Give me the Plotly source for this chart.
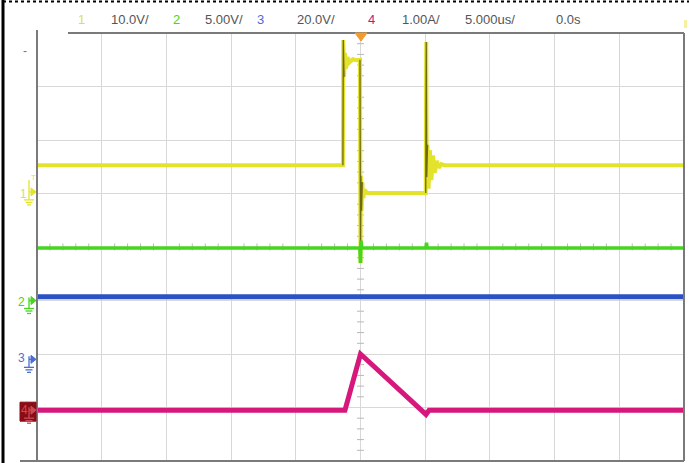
import numpy as np
import plotly.graph_objects as go

W, H = 689, 463

# ---------------- data (time in us, channel values in V / A) ----------------
ch1_t = [-25.0, -1.36, -1.33, -1.27, -1.2, -1.12, -1.0, -0.85, -0.6, -0.3, -0.04,
         0.0, 0.03, 0.08, 0.14, 0.22, 0.32, 0.5, 5.04, 5.08, 5.12, 5.18, 5.26,
         5.36, 5.48, 5.6, 5.74, 5.9, 6.05, 6.25, 6.5, 25.0]
ch1_v = [5.0, 5.0, 28.4, 21.5, 26.0, 23.0, 25.2, 24.2, 24.8, 24.6, 24.7,
         -13.3, 3.0, -3.5, 1.8, -1.2, 0.4, -0.2, -0.2, 28.0, 2.8, 8.8, 0.6,
         7.8, 2.2, 6.8, 3.6, 5.8, 4.5, 5.2, 5.0, 5.0]

ch2_t = [-25.0, -0.05, 0.0, 0.04, 0.1, 5.05, 5.1, 5.15, 25.0]
ch2_v = [4.9, 4.9, 3.5, 5.6, 4.9, 4.9, 5.4, 4.9, 4.9]

ch3_t = [-25.0, -0.02, 0.0, 0.03, 25.0]
ch3_v = [23.4, 23.4, 22.6, 23.4, 23.4]

ch4_t = [-25.0, -1.2, 0.0, 5.06, 5.3, 25.0]
ch4_i = [0.0, 0.0, 1.05, -0.08, 0.0, 0.0]

header_labels = ["1", "10.0V/", "2", "5.00V/", "3", "20.0V/", "4", "1.00A/", "5.000us/", "0.0s"]

# ---------------- styling / layout helpers ----------------
X0, X1 = 37, 684          # graticule px (left/right)
Y0, Y1 = 33, 461          # graticule px (top/bottom)
DIV_PX = (Y1 - Y0) / 8.0


def px(x):
    return x / W


def py(y):
    return 1 - y / H


YELLOW = "#e3e32c"
GREEN = "#45d61e"
BLUE = "#2a52c4"
PINK = "#d6187c"
GRID = "#d8d8d8"
BORDER = "#7a7a7a"

# channel settings: (scale per div, ground offset in divisions)
ch_scale = [10.0, 5.0, 20.0, 1.0]
ch_offset = [1.03, -1.0, -2.1, -3.05]


def ch_range(i):
    s, o = ch_scale[i], ch_offset[i]
    return [(-4 - o) * s, (4 - o) * s]


fig = go.Figure()

# graticule minor ticks on centre lines (base axes in time / divisions)
tx = [t for t in np.arange(-25, 25.01, 1.0) if abs(t % 5) > 1e-6]
fig.add_trace(go.Scatter(x=tx, y=[0] * len(tx), mode="markers", xaxis="x", yaxis="y",
                         marker=dict(symbol="line-ns", size=5, line=dict(width=1, color="#b8b8b8")),
                         hoverinfo="skip", showlegend=False))
ty = [d for d in np.arange(-4, 4.01, 0.2) if abs(d - round(d)) > 1e-6]
fig.add_trace(go.Scatter(x=[0] * len(ty), y=ty, mode="markers", xaxis="x", yaxis="y",
                         marker=dict(symbol="line-ew", size=5, line=dict(width=1, color="#b8b8b8")),
                         hoverinfo="skip", showlegend=False))

# channel traces (ch4 first so ch1 is on top)
fig.add_trace(go.Scatter(x=ch4_t, y=ch4_i, mode="lines", yaxis="y5",
                         line=dict(color=PINK, width=5), showlegend=False))
fig.add_trace(go.Scatter(x=ch3_t, y=ch3_v, mode="lines", yaxis="y4",
                         line=dict(color=BLUE, width=5), showlegend=False))
fig.add_trace(go.Scatter(x=ch2_t, y=ch2_v, mode="lines", yaxis="y3",
                         line=dict(color=GREEN, width=3.5), showlegend=False))
fig.add_trace(go.Scatter(x=ch1_t, y=ch1_v, mode="lines", yaxis="y2",
                         line=dict(color=YELLOW, width=4), showlegend=False))

# darker thin edges of the ch1 transitions
t1 = np.array(ch1_t)
v1 = np.array(ch1_v)
for lo, hi in [(-1.37, -1.26), (-0.05, 0.15), (5.03, 5.2)]:
    m = (t1 >= lo) & (t1 <= hi)
    fig.add_trace(go.Scatter(x=t1[m], y=v1[m], mode="lines", yaxis="y2",
                             line=dict(color="#6f6a14", width=1.3), showlegend=False))

dom_x = [px(X0), px(X1)]
dom_y = [py(Y1), py(Y0)]
ax_common = dict(showticklabels=False, ticks="", zeroline=False, showline=False)
layout = dict(
    width=W, height=H,
    margin=dict(l=0, r=0, t=0, b=0),
    paper_bgcolor="white", plot_bgcolor="white",
    xaxis=dict(domain=dom_x, range=[-25, 25], dtick=5, tick0=0, showgrid=True,
               gridcolor=GRID, gridwidth=1, **ax_common),
    yaxis=dict(domain=dom_y, range=[-4, 4], dtick=1, tick0=0, showgrid=True,
               gridcolor=GRID, gridwidth=1, **ax_common),
    showlegend=False,
)
for i in range(4):
    layout[f"yaxis{i + 2}"] = dict(domain=dom_y, range=ch_range(i), overlaying="y",
                                   showgrid=False, **ax_common)
fig.update_layout(**layout)

shapes = []
# graticule border
for (xa, ya, xb, yb) in [(X0, 30, X0, Y1), (68, Y0, X1, Y0), (X1, Y0, X1, Y1), (20, Y1, X1, Y1)]:
    shapes.append(dict(type="line", xref="paper", yref="paper", x0=px(xa), y0=py(ya), x1=px(xb), y1=py(yb),
                       line=dict(color=BORDER, width=2), layer="above"))
# outer frame
shapes.append(dict(type="line", xref="paper", yref="paper", x0=px(3), y0=0, x1=px(3), y1=1,
                   line=dict(color="black", width=3)))
shapes.append(dict(type="line", xref="paper", yref="paper", x0=px(3), y0=py(1.5), x1=1, y1=py(1.5),
                   line=dict(color="black", width=2, dash="3px,3px")))
# trigger position marker
shapes.append(dict(type="path", xref="paper", yref="paper",
                   path=f"M {px(355)} {py(33)} L {px(367)} {py(33)} L {px(361)} {py(41)} Z",
                   fillcolor="#f39a2c", line=dict(color="#f39a2c", width=1)))
# small off-screen trigger level mark at right
shapes.append(dict(type="rect", xref="paper", yref="paper", x0=px(684), y0=py(20), x1=px(687), y1=py(28),
                   fillcolor="#f4f2a0", line=dict(width=0)))


def ground_marker(color, yc, stem_top=None):
    out = []
    # arrow pointing right
    out.append(dict(type="path", xref="paper", yref="paper",
                    path=f"M {px(31)} {py(yc - 4)} L {px(36)} {py(yc)} L {px(31)} {py(yc + 4)} Z",
                    fillcolor=color, line=dict(color=color, width=1)))
    top = yc - 3 if stem_top is None else stem_top
    out.append(dict(type="line", xref="paper", yref="paper", x0=px(29), y0=py(top), x1=px(29), y1=py(yc + 8),
                    line=dict(color=color, width=1.3)))
    out.append(dict(type="line", xref="paper", yref="paper", x0=px(29), y0=py(yc), x1=px(31), y1=py(yc),
                    line=dict(color=color, width=1.3)))
    for k, hw in enumerate([5, 3.5, 2]):
        yy = yc + 8 + 2.5 * k
        out.append(dict(type="line", xref="paper", yref="paper", x0=px(29 - hw), y0=py(yy), x1=px(29 + hw),
                        y1=py(yy), line=dict(color=color, width=1.3)))
    return out


def ground_px(i):
    return (Y0 + Y1) / 2 - ch_offset[i] * DIV_PX


# ch4 box
g4 = ground_px(3)
shapes.append(dict(type="rect", xref="paper", yref="paper", x0=px(20), y0=py(g4 - 8), x1=px(36), y1=py(g4 + 11),
                   fillcolor="#8a0c14", line=dict(color="#8a0c14", width=1)))
shapes += ground_marker("#c94a58", g4)
shapes += ground_marker(YELLOW, ground_px(0), stem_top=ground_px(0) - 12)
shapes += ground_marker(GREEN, ground_px(1))
shapes += ground_marker("#4a6fd0", ground_px(2))
fig.update_layout(shapes=shapes)

annotations = []
hdr_x = [81, 130, 176, 224, 260, 316, 371, 421, 490, 568]
hdr_c = [YELLOW, "#555555", GREEN, "#555555", "#4a6fd0", "#555555", "#c0187a", "#555555", "#555555", "#555555"]
for lab, xx, cc in zip(header_labels, hdr_x, hdr_c):
    annotations.append(dict(text=lab, xref="paper", yref="paper", x=px(xx), y=py(19), showarrow=False,
                            xanchor="center", yanchor="middle",
                            font=dict(family="Liberation Sans, Arial", size=13, color=cc)))
# channel number labels
for lab, xx, yy, cc in [("1", 23, ground_px(0) + 2, YELLOW), ("2", 21, ground_px(1) + 1, GREEN),
                        ("3", 21, ground_px(2) - 1, "#4a6fd0"), ("4", 24, g4, "#d04858")]:
    annotations.append(dict(text=lab, xref="paper", yref="paper", x=px(xx), y=py(yy), showarrow=False,
                            xanchor="center", yanchor="middle",
                            font=dict(family="Liberation Sans", size=12, color=cc)))
annotations.append(dict(text="T", xref="paper", yref="paper", x=px(29), y=py(ground_px(0) - 14), showarrow=False,
                        font=dict(family="Liberation Sans", size=8, color=YELLOW)))
annotations.append(dict(text="-", xref="paper", yref="paper", x=px(21), y=py(42), showarrow=False,
                        font=dict(family="Liberation Sans", size=12, color="#777777")))
fig.update_layout(annotations=annotations)

fig.write_html("out.html")
